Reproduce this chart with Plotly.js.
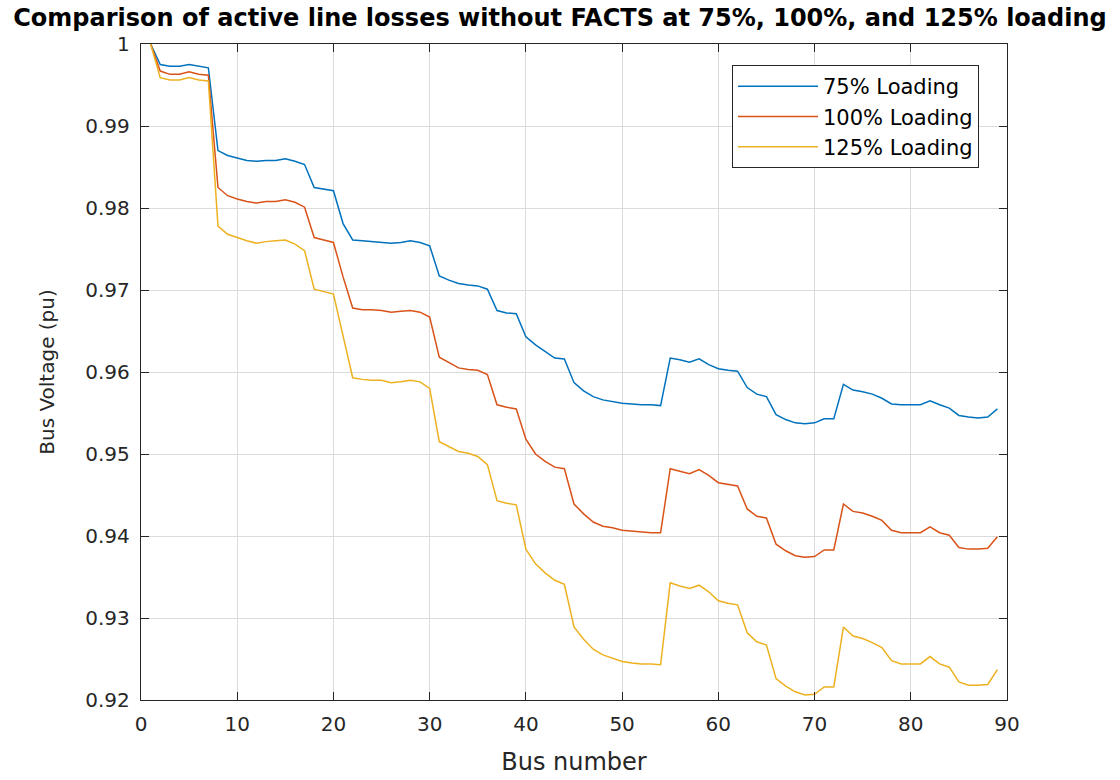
<!DOCTYPE html>
<html>
<head>
<meta charset="utf-8">
<script src="https://cdn.plot.ly/plotly-3.0.1.min.js"></script>
<style>html,body{margin:0;padding:0;background:#fff;}#chart{width:1120px;height:780px;}</style>
</head>
<body>
<div id="chart"></div>
<script>
const busNumbers = Array.from({length: 89}, (_, i) => i + 1);

const load75 = [
  1.0000, 0.9975, 0.9973, 0.9973, 0.9975, 0.9973, 0.9971, 0.9870, 0.9864, 0.9861,
  0.9858, 0.9857, 0.9858, 0.9858, 0.9860, 0.9857, 0.9853, 0.9825, 0.9823, 0.9821,
  0.9781, 0.9761, 0.9760, 0.9759, 0.9758, 0.9757, 0.9758, 0.9760, 0.9758, 0.9754,
  0.9717, 0.9712, 0.9708, 0.9706, 0.9705, 0.9701, 0.9675, 0.9672, 0.9671, 0.9643,
  0.9633, 0.9625, 0.9617, 0.9616, 0.9587, 0.9577, 0.9570, 0.9566, 0.9564, 0.9562,
  0.9561, 0.9560, 0.9560, 0.9559, 0.9617, 0.9615, 0.9612, 0.9616, 0.9609, 0.9604,
  0.9602, 0.9601, 0.9581, 0.9573, 0.9570, 0.9548, 0.9542, 0.9538, 0.9537, 0.9538,
  0.9543, 0.9543, 0.9585, 0.9578, 0.9576, 0.9573, 0.9568, 0.9561, 0.9560, 0.9560,
  0.9560, 0.9565, 0.9560, 0.9556, 0.9547, 0.9545, 0.9544, 0.9545, 0.9555
];

const load100 = [
  1.0000, 0.9967, 0.9963, 0.9963, 0.9966, 0.9963, 0.9962, 0.9825, 0.9815, 0.9811,
  0.9808, 0.9806, 0.9808, 0.9808, 0.9810, 0.9807, 0.9801, 0.9764, 0.9761, 0.9758,
  0.9716, 0.9678, 0.9676, 0.9676, 0.9675, 0.9673, 0.9674, 0.9675, 0.9673, 0.9667,
  0.9618, 0.9612, 0.9605, 0.9603, 0.9602, 0.9597, 0.9560, 0.9557, 0.9555, 0.9518,
  0.9500, 0.9491, 0.9484, 0.9482, 0.9439, 0.9427, 0.9417, 0.9412, 0.9410, 0.9407,
  0.9406, 0.9405, 0.9404, 0.9404, 0.9482, 0.9479, 0.9476, 0.9481, 0.9474, 0.9465,
  0.9463, 0.9461, 0.9433, 0.9424, 0.9422, 0.9390, 0.9382, 0.9376, 0.9374, 0.9375,
  0.9383, 0.9383, 0.9439, 0.9430, 0.9428, 0.9424, 0.9419, 0.9407, 0.9404, 0.9404,
  0.9404, 0.9411, 0.9404, 0.9401, 0.9386, 0.9384, 0.9384, 0.9385, 0.9399
];

const load125 = [
  1.0000, 0.9959, 0.9956, 0.9956, 0.9959, 0.9956, 0.9955, 0.9778, 0.9768, 0.9764,
  0.9760, 0.9757, 0.9759, 0.9760, 0.9761, 0.9756, 0.9748, 0.9701, 0.9698, 0.9695,
  0.9644, 0.9593, 0.9591, 0.9590, 0.9590, 0.9587, 0.9588, 0.9590, 0.9588, 0.9580,
  0.9515, 0.9509, 0.9503, 0.9501, 0.9497, 0.9487, 0.9443, 0.9440, 0.9438, 0.9384,
  0.9366, 0.9355, 0.9346, 0.9341, 0.9289, 0.9274, 0.9262, 0.9255, 0.9251, 0.9247,
  0.9245, 0.9244, 0.9244, 0.9243, 0.9343, 0.9339, 0.9336, 0.9340, 0.9332, 0.9321,
  0.9318, 0.9316, 0.9282, 0.9271, 0.9267, 0.9226, 0.9217, 0.9210, 0.9206, 0.9207,
  0.9216, 0.9216, 0.9289, 0.9278, 0.9275, 0.9270, 0.9264, 0.9248, 0.9244, 0.9244,
  0.9244, 0.9253, 0.9244, 0.9240, 0.9222, 0.9218, 0.9218, 0.9219, 0.9237
];

const seriesNames = ['75% Loading', '100% Loading', '125% Loading'];
const seriesColors = ['#0072BD', '#D95319', '#EDB120'];
const seriesValues = [load75, load100, load125];

const xTicks = [0, 10, 20, 30, 40, 50, 60, 70, 80, 90];
const yTicks = [0.92, 0.93, 0.94, 0.95, 0.96, 0.97, 0.98, 0.99, 1];

const traces = seriesValues.map((vals, i) => ({
  type: 'scatter',
  mode: 'lines',
  x: busNumbers,
  y: vals,
  name: seriesNames[i],
  line: {color: seriesColors[i], width: 1.5}
}));

const axisCommon = {
  showline: true,
  linecolor: '#262626',
  linewidth: 1.2,
  mirror: 'ticks',
  ticks: 'inside',
  ticklen: 8,
  tickwidth: 1,
  tickcolor: '#262626',
  showgrid: true,
  gridcolor: '#DBDBDB',
  gridwidth: 1,
  zeroline: false,
  tickfont: {family: 'DejaVu Sans', size: 20, color: '#262626'}
};

const layout = {
  width: 1120,
  height: 780,
  paper_bgcolor: '#ffffff',
  plot_bgcolor: '#ffffff',
  margin: {l: 141, r: 113, t: 44, b: 80},
  showlegend: true,
  title: {
    text: 'Comparison of active line losses without FACTS at 75%, 100%, and 125% loading',
    font: {family: 'DejaVu Sans', size: 24, color: '#000000', weight: 'bold'},
    xref: 'container', x: 0.5, xanchor: 'center',
    yref: 'container', y: 0.978, yanchor: 'middle'
  },
  xaxis: Object.assign({}, axisCommon, {
    range: [0, 90],
    tickvals: xTicks,
    ticktext: xTicks.map(String),
    ticklabelstandoff: 6,
    title: {text: 'Bus number', font: {family: 'DejaVu Sans', size: 24, color: '#262626'}, standoff: 18}
  }),
  yaxis: Object.assign({}, axisCommon, {
    range: [0.92, 1],
    tickvals: yTicks,
    ticktext: yTicks.map(String),
    ticklabelstandoff: 6,
    title: {text: 'Bus Voltage (pu)', font: {family: 'DejaVu Sans', size: 20, color: '#262626'}, standoff: 25}
  }),
  legend: {
    x: 0.6824, y: 0.968, xanchor: 'left', yanchor: 'top',
    xref: 'paper', yref: 'paper',
    bgcolor: '#ffffff',
    bordercolor: '#262626',
    borderwidth: 1,
    itemwidth: 80,
    font: {family: 'DejaVu Sans', size: 21, color: '#000000'}
  }
};

Plotly.newPlot('chart', traces, layout, {displayModeBar: false, staticPlot: true});
</script>
</body>
</html>
